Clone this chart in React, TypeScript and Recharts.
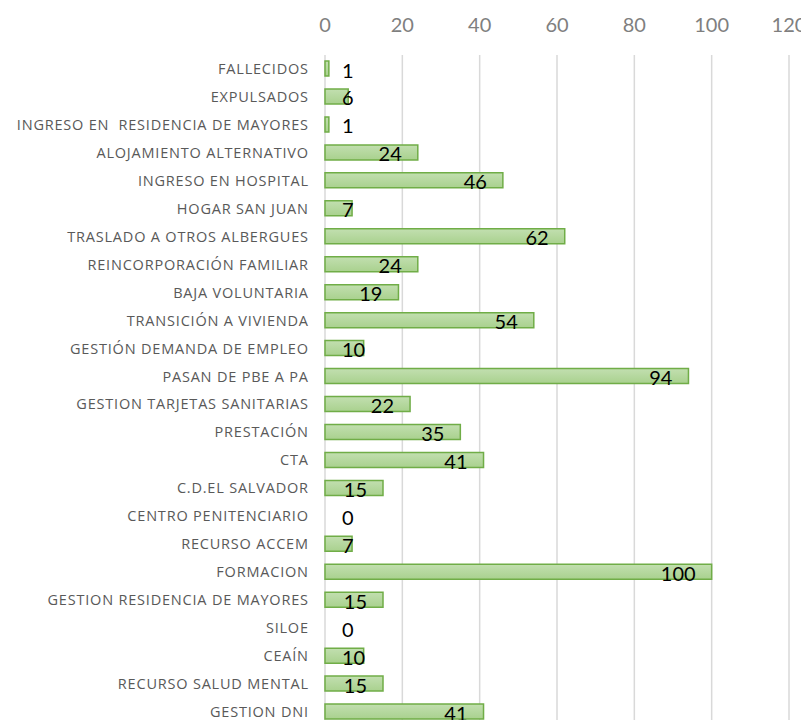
import React from 'react';
import { BarChart, Bar, XAxis, YAxis, CartesianGrid, LabelList } from 'recharts';

const categories: string[] = [
  'FALLECIDOS',
  'EXPULSADOS',
  'INGRESO EN  RESIDENCIA DE MAYORES',
  'ALOJAMIENTO ALTERNATIVO',
  'INGRESO EN HOSPITAL',
  'HOGAR SAN JUAN',
  'TRASLADO A OTROS ALBERGUES',
  'REINCORPORACIÓN FAMILIAR',
  'BAJA VOLUNTARIA',
  'TRANSICIÓN A VIVIENDA',
  'GESTIÓN DEMANDA DE EMPLEO',
  'PASAN DE PBE A PA',
  'GESTION TARJETAS SANITARIAS',
  'PRESTACIÓN',
  'CTA',
  'C.D.EL SALVADOR',
  'CENTRO PENITENCIARIO',
  'RECURSO ACCEM',
  'FORMACION',
  'GESTION RESIDENCIA DE MAYORES',
  'SILOE',
  'CEAÍN',
  'RECURSO SALUD MENTAL',
  'GESTION DNI',
];

const values: number[] = [1, 6, 1, 24, 46, 7, 62, 24, 19, 54, 10, 94, 22, 35, 41, 15, 0, 7, 100, 15, 0, 10, 15, 41];

const xTicks: number[] = [0, 20, 40, 60, 80, 100, 120];

const data = categories.map((name, i) => ({ name, value: values[i] }));

const LABEL_FONT = '"Open Sans", sans-serif';
const VALUE_FONT = 'Lato, sans-serif';
const TICK_MARGIN = 17;
const LABEL_PAD = 17;
const LETTER_SPACING = 0.8;

const CategoryTick = (props: any) => {
  const { x, y, payload, index } = props;
  const v = values[index];
  return (
    <g>
      <text
        x={x + LETTER_SPACING}
        y={y}
        dy={5}
        textAnchor="end"
        fill="#595959"
        fontSize={14.5}
        fontFamily={LABEL_FONT}
        letterSpacing={LETTER_SPACING}
        style={{ whiteSpace: 'pre' }}
      >
        {payload.value}
      </text>
      {v === 0 ? (
        <text
          x={x + TICK_MARGIN + LABEL_PAD}
          y={y + 9}
          textAnchor="start"
          fill="#000000"
          fontSize={20}
          fontFamily={VALUE_FONT}
        >
          {v}
        </text>
      ) : null}
    </g>
  );
};

const ValueLabel = (props: any) => {
  const { x, y, width, height, value } = props;
  const w = String(value).length * 11.6;
  const barEnd = x + width;
  const right = Math.max(barEnd - 16, x + LABEL_PAD + w);
  return (
    <text
      x={right}
      y={y + height / 2 + 9}
      textAnchor="end"
      fill="#000000"
      fontSize={20}
      fontFamily={VALUE_FONT}
    >
      {value}
    </text>
  );
};

export default function App() {
  return (
    <div style={{ width: 801, height: 712, overflow: 'hidden' }}>
      <BarChart
        width={801}
        height={720}
        data={data}
        layout="vertical"
        margin={{ top: 0, right: 20, bottom: 2, left: 0 }}
        barSize={15}
      >
        <defs>
          <linearGradient id="barFill" x1="0" y1="0" x2="0" y2="1">
            <stop offset="0%" stopColor="#c2dfb0" />
            <stop offset="100%" stopColor="#a9d18e" />
          </linearGradient>
        </defs>
        <CartesianGrid horizontal={false} stroke="#d9d9d9" strokeWidth={1.5} />
        <XAxis
          type="number"
          orientation="top"
          domain={[0, 120]}
          ticks={xTicks}
          axisLine={false}
          tickLine={false}
          tickSize={0}
          tickMargin={23}
          height={47}
          tick={{ fill: '#7f7f7f', fontSize: 20, fontFamily: VALUE_FONT }}
          interval={0}
        />
        <YAxis
          type="category"
          dataKey="name"
          width={317}
          axisLine={false}
          tickLine={false}
          tickSize={0}
          tickMargin={TICK_MARGIN}
          interval={0}
          tick={<CategoryTick />}
        />
        <Bar
          dataKey="value"
          fill="url(#barFill)"
          stroke="#70ad47"
          strokeWidth={1.5}
          isAnimationActive={false}
        >
          <LabelList dataKey="value" content={<ValueLabel />} />
        </Bar>
      </BarChart>
    </div>
  );
}
